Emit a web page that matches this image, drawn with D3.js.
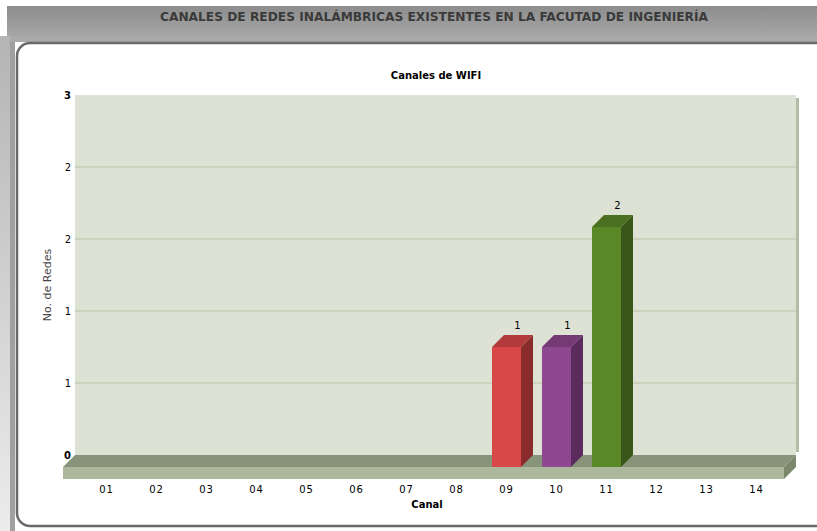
<!DOCTYPE html>
<meta charset="utf-8">
<style>
body { margin: 0; background: #fff; }
svg { display: block; }
</style>
<body>
<svg width="817" height="531"></svg>
<script src="https://cdn.jsdelivr.net/npm/d3@7"></script>
<script>

// data
var channels = ["01", "02", "03", "04", "05", "06", "07", "08", "09", "10", "11", "12", "13", "14"];
var networks = [0, 0, 0, 0, 0, 0, 0, 0, 1, 1, 2, 0, 0, 0];
var yTicks = [0, 0.6, 1.2, 1.8, 2.4, 3];
var barColors = {"09": ["#d84848", "#b23a3a", "#8a2c2c"],
                 "10": ["#8e4890", "#733a75", "#5c2b5d"],
                 "11": ["#5a8826", "#4a7020", "#3a5619"]};

var title = "CANALES DE REDES INALÁMBRICAS EXISTENTES EN LA FACUTAD DE INGENIERÍA";
var caption = "Canales de WIFI";
var xName = "Canal", yName = "No. de Redes";

var svg = d3.select("svg");
var defs = svg.append("defs");

var hg = defs.append("linearGradient").attr("id", "head").attr("x1", 0).attr("y1", 0).attr("x2", 0).attr("y2", 1);
hg.append("stop").attr("offset", 0).attr("stop-color", "#8d8d8d");
hg.append("stop").attr("offset", 1).attr("stop-color", "#a6a6a6");

var lg = defs.append("linearGradient").attr("id", "side").attr("x1", 0).attr("y1", 0).attr("x2", 0).attr("y2", 1);
lg.append("stop").attr("offset", 0).attr("stop-color", "#b4b4b4");
lg.append("stop").attr("offset", 1).attr("stop-color", "#ececec");

// page frame
svg.append("rect").attr("x", 7).attr("y", 6).attr("width", 810).attr("height", 30).attr("fill", "url(#head)");
svg.append("rect").attr("x", 0).attr("y", 36).attr("width", 10).attr("height", 495).attr("fill", "url(#side)");
svg.append("rect").attr("x", 10).attr("y", 36).attr("width", 807).attr("height", 6).attr("fill", "#a9a9a9");
svg.append("rect").attr("x", 10).attr("y", 42).attr("width", 5).attr("height", 489).attr("fill", "#a0a0a0");

svg.append("text")
    .attr("x", 434).attr("y", 21)
    .attr("text-anchor", "middle")
    .attr("textLength", 548).attr("lengthAdjust", "spacingAndGlyphs")
    .attr("font-family", "'Liberation Sans Narrow', 'DejaVu Sans Condensed', 'Liberation Sans', sans-serif")
    .attr("font-size", 12.5)
    .attr("font-weight", "bold")
    .attr("fill", "#3a3a3a")
    .text(title);

svg.append("rect")
    .attr("x", 17).attr("y", 43).attr("width", 815).attr("height", 483)
    .attr("rx", 13)
    .attr("fill", "#fff").attr("stroke", "#6a6a6a").attr("stroke-width", 2.5);

// scales: front face coordinates, wall is shifted by depth
var depth = 12;
var x = d3.scalePoint().domain(channels).range([106.5, 756.5]);
var y = d3.scaleLinear().domain([0, 3]).range([467, 107]);
var barW = 29;
var left = 63, right = 784;

var g = svg.append("g");

// back wall
g.append("rect")
    .attr("x", left + depth).attr("y", y(3) - depth)
    .attr("width", right - left).attr("height", y(0) - y(3))
    .attr("fill", "#dde2d4");
g.append("rect")
    .attr("x", right + depth).attr("y", y(3) - depth + 3)
    .attr("width", 3).attr("height", y(0) - y(3) - 6)
    .attr("fill", "#b3bca7");

g.selectAll("line.grid")
    .data(yTicks.slice(1, -1))
    .enter().append("line")
    .attr("class", "grid")
    .attr("x1", left + depth).attr("x2", right + depth)
    .attr("y1", function(d) { return y(d) - depth; })
    .attr("y2", function(d) { return y(d) - depth; })
    .attr("stroke", "#b8c4a2").attr("stroke-width", 1.2);

// floor
var y0 = y(0);
g.append("polygon")
    .attr("points", [[left, y0], [left + depth, y0 - depth], [right + depth, y0 - depth], [right, y0]].join(" "))
    .attr("fill", "#88947a");
g.append("rect")
    .attr("x", left).attr("y", y0).attr("width", right - left).attr("height", depth)
    .attr("fill", "#abb89b");
g.append("polygon")
    .attr("points", [[right, y0], [right + depth, y0 - depth], [right + depth, y0], [right, y0 + depth]].join(" "))
    .attr("fill", "#7b886c");

// y axis labels
var fmt = d3.format(".0f");
g.selectAll("text.ytick")
    .data(yTicks)
    .enter().append("text")
    .attr("class", "ytick")
    .attr("x", 71)
    .attr("y", function(d) { return y(d) - depth; })
    .attr("dy", "0.35em")
    .attr("text-anchor", "end")
    .attr("font-family", "'DejaVu Sans', Verdana, sans-serif")
    .attr("font-size", 10)
    .attr("font-weight", function(d, i) { return i == 0 || i == yTicks.length - 1 ? "bold" : "normal"; })
    .attr("fill", "#000")
    .text(function(d) { return fmt(d); });

// x axis labels
g.selectAll("text.xtick")
    .data(channels)
    .enter().append("text")
    .attr("class", "xtick")
    .attr("x", function(d) { return x(d); })
    .attr("y", 492.5)
    .attr("text-anchor", "middle")
    .attr("font-family", "'DejaVu Sans', Verdana, sans-serif")
    .attr("font-size", 10)
    .attr("letter-spacing", 0.8)
    .attr("fill", "#000")
    .text(function(d) { return d; });

// bars
var data = channels.map(function(c, i) { return {c: c, v: networks[i]}; }).filter(function(d) { return d.v > 0; });

var bars = g.selectAll("g.bar")
    .data(data)
    .enter().append("g")
    .attr("class", "bar");

bars.append("rect")
    .attr("x", function(d) { return x(d.c) - barW / 2; })
    .attr("y", function(d) { return y(d.v); })
    .attr("width", barW)
    .attr("height", function(d) { return y(0) - y(d.v); })
    .attr("fill", function(d) { return barColors[d.c][0]; });

bars.append("polygon")
    .attr("points", function(d) {
      var x0 = x(d.c) - barW / 2, x1 = x(d.c) + barW / 2, t = y(d.v);
      return [[x0, t], [x0 + depth, t - depth], [x1 + depth, t - depth], [x1, t]].join(" ");
    })
    .attr("fill", function(d) { return barColors[d.c][1]; });

bars.append("polygon")
    .attr("points", function(d) {
      var x1 = x(d.c) + barW / 2, t = y(d.v);
      return [[x1, t], [x1 + depth, t - depth], [x1 + depth, y(0) - depth], [x1, y(0)]].join(" ");
    })
    .attr("fill", function(d) { return barColors[d.c][2]; });

bars.append("text")
    .attr("x", function(d) { return x(d.c) + 11; })
    .attr("y", function(d) { return y(d.v) - 18; })
    .attr("text-anchor", "middle")
    .attr("font-family", "'DejaVu Sans', Verdana, sans-serif")
    .attr("font-size", 10)
    .attr("fill", "#000")
    .text(function(d) { return d.v; });

// captions
svg.append("text")
    .attr("x", 436).attr("y", 79)
    .attr("text-anchor", "middle")
    .attr("font-family", "'DejaVu Sans', Verdana, sans-serif")
    .attr("font-size", 10).attr("font-weight", "bold")
    .text(caption);

svg.append("text")
    .attr("x", 427).attr("y", 508)
    .attr("text-anchor", "middle")
    .attr("font-family", "'DejaVu Sans', Verdana, sans-serif")
    .attr("font-size", 10).attr("font-weight", "bold")
    .text(xName);

svg.append("text")
    .attr("transform", "translate(51,285) rotate(-90)")
    .attr("text-anchor", "middle")
    .attr("font-family", "'DejaVu Sans', Verdana, sans-serif")
    .attr("font-size", 11)
    .attr("fill", "#444")
    .text(yName);

</script>
</body>
